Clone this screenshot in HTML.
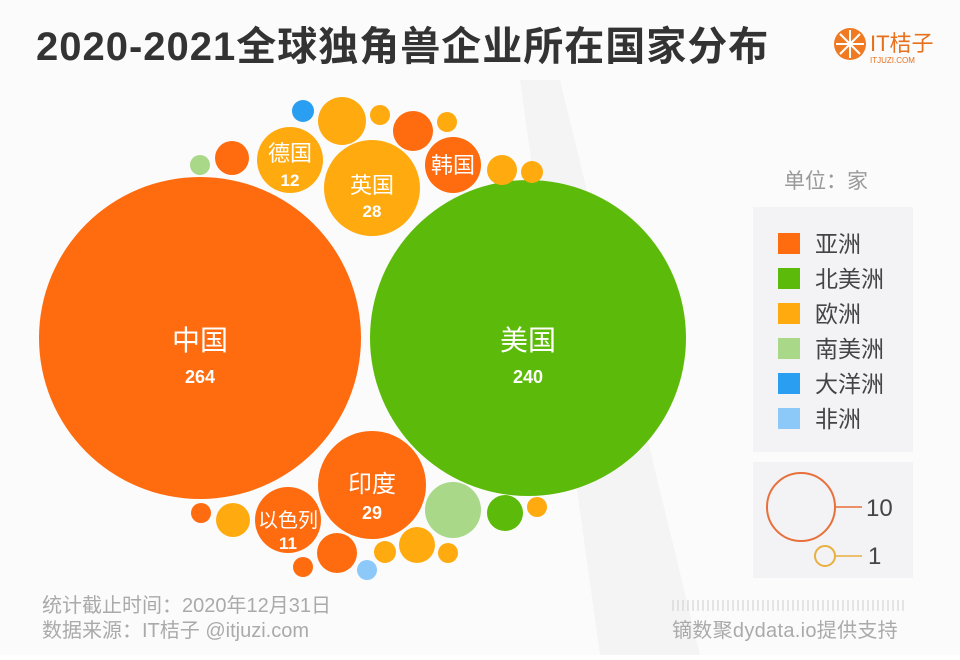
<!DOCTYPE html>
<html><head><meta charset="utf-8"><style>
body{margin:0;width:960px;height:655px;background:#fff;overflow:hidden;font-family:"Liberation Sans","Noto Sans CJK SC",sans-serif}
</style></head><body>
<svg width="960" height="655" xmlns="http://www.w3.org/2000/svg" font-family="Liberation Sans, Noto Sans CJK SC, sans-serif">
<rect width="960" height="655" fill="#fbfbfb"/>
<polygon points="520,80 560,80 700,655 600,655" fill="#f4f4f4"/>
<text x="36" y="60" font-size="40" font-weight="bold" fill="#333" letter-spacing="1">2020-2021全球独角兽企业所在国家分布</text>
<circle cx="850" cy="44" r="16" fill="#f07a22"/>
<g stroke="#fff" stroke-width="2"><line x1="850" y1="30" x2="850" y2="58"/><line x1="836" y1="44" x2="864" y2="44"/><line x1="840" y1="34" x2="860" y2="54"/><line x1="860" y1="34" x2="840" y2="54"/></g>
<text x="870" y="51" font-size="22" fill="#e8701a">IT桔子</text>
<text x="870" y="63" font-size="8" fill="#e8701a">ITJUZI.COM</text>

<circle cx="200" cy="338" r="161" fill="#ff6b0f"/>
<circle cx="528" cy="338" r="158" fill="#5cbb0a"/>
<g fill="#ffab10">
<circle cx="290" cy="160" r="33"/><circle cx="372" cy="188" r="48"/><circle cx="342" cy="121" r="24"/>
<circle cx="380" cy="115" r="10"/><circle cx="447" cy="122" r="10"/><circle cx="502" cy="170" r="15"/><circle cx="532" cy="172" r="11"/>
<circle cx="233" cy="520" r="17"/><circle cx="537" cy="507" r="10"/><circle cx="385" cy="552" r="11"/><circle cx="417" cy="545" r="18"/><circle cx="448" cy="553" r="10"/>
</g>
<g fill="#ff6b0f">
<circle cx="232" cy="158" r="17"/><circle cx="413" cy="131" r="20"/><circle cx="453" cy="165" r="28"/>
<circle cx="201" cy="513" r="10"/><circle cx="288" cy="520" r="33"/><circle cx="372" cy="485" r="54"/>
<circle cx="303" cy="567" r="10"/><circle cx="337" cy="553" r="20"/>
</g>
<circle cx="200" cy="165" r="10" fill="#a8d888"/>
<circle cx="453" cy="510" r="28" fill="#a8d888"/>
<circle cx="505" cy="513" r="18" fill="#5cbb0a"/>
<circle cx="303" cy="111" r="11" fill="#2a9ef0"/>
<circle cx="367" cy="570" r="10" fill="#8cc8f8"/>

<g fill="#fff" text-anchor="middle">
<text x="200" y="350" font-size="28">中国</text><text x="200" y="383" font-size="18" font-weight="bold">264</text>
<text x="528" y="350" font-size="28">美国</text><text x="528" y="383" font-size="18" font-weight="bold">240</text>
<text x="290" y="161" font-size="22">德国</text><text x="290" y="186" font-size="17" font-weight="bold">12</text>
<text x="372" y="193" font-size="22">英国</text><text x="372" y="217" font-size="17" font-weight="bold">28</text>
<text x="453" y="173" font-size="22">韩国</text>
<text x="372" y="492" font-size="24">印度</text><text x="372" y="519" font-size="18" font-weight="bold">29</text>
<text x="288" y="527" font-size="20">以色列</text><text x="288" y="549" font-size="17" font-weight="bold">11</text>
</g>

<text x="784" y="188" font-size="21" fill="#999">单位：家</text>
<rect x="753" y="207" width="160" height="245" fill="#f3f3f5"/>
<g font-size="23" fill="#444">
<rect x="778" y="233" width="22" height="21" fill="#ff6b0f"/><text x="815" y="252">亚洲</text>
<rect x="778" y="268" width="22" height="21" fill="#5cbb0a"/><text x="815" y="287">北美洲</text>
<rect x="778" y="303" width="22" height="21" fill="#ffab10"/><text x="815" y="322">欧洲</text>
<rect x="778" y="338" width="22" height="21" fill="#a8d888"/><text x="815" y="357">南美洲</text>
<rect x="778" y="373" width="22" height="21" fill="#2a9ef0"/><text x="815" y="392">大洋洲</text>
<rect x="778" y="408" width="22" height="21" fill="#8cc8f8"/><text x="815" y="427">非洲</text>
</g>
<rect x="753" y="462" width="160" height="116" fill="#f3f3f5"/>
<circle cx="801" cy="507" r="34" fill="none" stroke="#e8703a" stroke-width="2"/>
<line x1="835" y1="507" x2="862" y2="507" stroke="#e8703a" stroke-width="1.5"/>
<text x="866" y="516" font-size="24" fill="#444">10</text>
<circle cx="825" cy="556" r="10" fill="none" stroke="#e8b040" stroke-width="2"/>
<line x1="835" y1="556" x2="862" y2="556" stroke="#e8b040" stroke-width="1.5"/>
<text x="868" y="564" font-size="24" fill="#444">1</text>

<g font-size="20" fill="#aaa">
<text x="42" y="612">统计截止时间：2020年12月31日</text>
<text x="42" y="637">数据来源：IT桔子 @itjuzi.com</text>
<text x="672" y="637" letter-spacing="0.3">镝数聚dydata.io提供支持</text>
</g>
<g stroke="#ccc" stroke-width="1">
<path d="M673 600v11M678 600v11M683 600v11M688 600v11M693 600v11M698 600v11M703 600v11M708 600v11M713 600v11M718 600v11M723 600v11M728 600v11M733 600v11M738 600v11M743 600v11M748 600v11M753 600v11M758 600v11M763 600v11M768 600v11M773 600v11M778 600v11M783 600v11M788 600v11M793 600v11M798 600v11M803 600v11M808 600v11M813 600v11M818 600v11M823 600v11M828 600v11M833 600v11M838 600v11M843 600v11M848 600v11M853 600v11M858 600v11M863 600v11M868 600v11M873 600v11M878 600v11M883 600v11M888 600v11M893 600v11M898 600v11M903 600v11"/>
</g>
</svg>
</body></html>
